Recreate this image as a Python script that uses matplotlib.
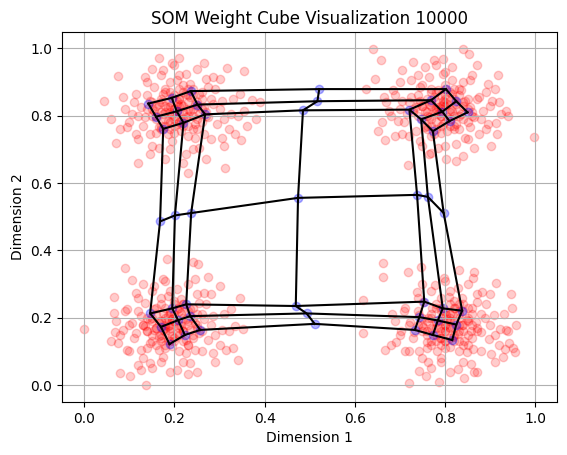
import numpy as np
import matplotlib
matplotlib.use("Agg")
import matplotlib.pyplot as plt

# input data, four clusters (x, y)
cluster_tl = [
    (0.20, 0.82), (0.22, 0.83), (0.18, 0.81), (0.24, 0.80), (0.21, 0.85), (0.19, 0.78), (0.23, 0.86), (0.17, 0.84),
    (0.25, 0.83), (0.20, 0.79), (0.22, 0.77), (0.16, 0.80), (0.26, 0.78), (0.18, 0.87), (0.24, 0.88), (0.21, 0.81),
    (0.19, 0.83), (0.23, 0.82), (0.15, 0.82), (0.27, 0.81), (0.20, 0.75), (0.22, 0.89), (0.17, 0.77), (0.25, 0.76),
    (0.28, 0.85), (0.14, 0.86), (0.19, 0.90), (0.23, 0.74), (0.26, 0.87), (0.16, 0.75),
    (0.12, 0.80), (0.11, 0.84), (0.13, 0.77), (0.30, 0.82), (0.31, 0.79), (0.29, 0.88), (0.27, 0.91), (0.21, 0.92),
    (0.17, 0.92), (0.14, 0.90), (0.10, 0.78), (0.12, 0.73), (0.15, 0.71), (0.19, 0.70), (0.24, 0.70), (0.28, 0.73),
    (0.32, 0.76), (0.33, 0.85), (0.30, 0.91), (0.25, 0.94), (0.20, 0.95), (0.15, 0.94), (0.09, 0.82), (0.08, 0.76),
    (0.27, 0.67), (0.22, 0.66), (0.18, 0.67), (0.34, 0.80), (0.36, 0.77), (0.31, 0.71),
    (0.044, 0.843), (0.074, 0.918), (0.070, 0.719), (0.354, 0.932), (0.372, 0.848), (0.313, 0.645), (0.210, 0.972),
    (0.166, 0.972), (0.347, 0.729), (0.317, 0.943), (0.06, 0.79), (0.38, 0.79), (0.23, 0.63), (0.12, 0.66), (0.39, 0.84),
    (0.205, 0.815), (0.215, 0.835), (0.195, 0.805), (0.235, 0.815), (0.185, 0.825), (0.225, 0.795), (0.205, 0.845),
    (0.245, 0.835), (0.175, 0.805), (0.215, 0.785), (0.195, 0.855), (0.235, 0.855), (0.165, 0.835), (0.255, 0.805),
    (0.185, 0.785), (0.225, 0.865), (0.205, 0.775), (0.265, 0.825), (0.155, 0.815), (0.245, 0.775), (0.175, 0.865),
    (0.215, 0.755), (0.275, 0.795), (0.145, 0.845), (0.235, 0.895), (0.185, 0.745), (0.255, 0.865), (0.165, 0.765),
    (0.285, 0.835), (0.135, 0.795), (0.205, 0.905), (0.245, 0.735), (0.155, 0.885), (0.295, 0.775), (0.125, 0.825),
    (0.275, 0.885), (0.195, 0.725), (0.225, 0.925), (0.145, 0.745), (0.305, 0.845), (0.115, 0.865), (0.265, 0.745),
    (0.175, 0.935), (0.325, 0.805), (0.105, 0.805), (0.255, 0.705), (0.165, 0.705), (0.285, 0.915), (0.135, 0.915),
    (0.345, 0.865), (0.095, 0.765), (0.305, 0.735), (0.225, 0.685), (0.195, 0.955), (0.335, 0.745), (0.115, 0.745),
    (0.265, 0.955), (0.085, 0.855), (0.355, 0.815), (0.145, 0.685),
    (0.200, 0.820), (0.210, 0.830), (0.190, 0.810), (0.220, 0.810), (0.180, 0.830), (0.230, 0.840), (0.200, 0.800),
    (0.210, 0.850), (0.190, 0.840), (0.220, 0.790), (0.170, 0.810), (0.240, 0.820), (0.200, 0.860), (0.180, 0.790),
    (0.230, 0.800), (0.160, 0.830), (0.250, 0.840), (0.210, 0.780), (0.190, 0.870), (0.240, 0.860), (0.170, 0.850),
    (0.220, 0.870), (0.180, 0.770), (0.250, 0.790), (0.160, 0.790), (0.200, 0.770), (0.230, 0.770), (0.150, 0.840),
    (0.260, 0.820), (0.210, 0.880), (0.170, 0.760), (0.240, 0.760), (0.190, 0.760), (0.150, 0.800), (0.260, 0.850),
    (0.180, 0.880), (0.230, 0.880), (0.270, 0.800), (0.140, 0.820), (0.205, 0.835),
]
cluster_tr = [
    (0.79, 0.83), (0.81, 0.82), (0.77, 0.84), (0.83, 0.80), (0.80, 0.86), (0.76, 0.80), (0.82, 0.85), (0.78, 0.78),
    (0.84, 0.83), (0.79, 0.80), (0.75, 0.83), (0.81, 0.77), (0.86, 0.81), (0.77, 0.87), (0.83, 0.88), (0.80, 0.84),
    (0.74, 0.86), (0.78, 0.82), (0.85, 0.78), (0.82, 0.76), (0.76, 0.77), (0.80, 0.89), (0.73, 0.81), (0.87, 0.85),
    (0.79, 0.75), (0.72, 0.84), (0.84, 0.90), (0.75, 0.89), (0.88, 0.79), (0.77, 0.74),
    (0.70, 0.82), (0.69, 0.86), (0.71, 0.78), (0.90, 0.83), (0.89, 0.87), (0.86, 0.92), (0.80, 0.93), (0.74, 0.92),
    (0.70, 0.90), (0.68, 0.80), (0.72, 0.74), (0.75, 0.71), (0.80, 0.71), (0.85, 0.73), (0.89, 0.76), (0.92, 0.84),
    (0.67, 0.84), (0.66, 0.78), (0.78, 0.95), (0.73, 0.96), (0.91, 0.88), (0.84, 0.68), (0.77, 0.69), (0.69, 0.74),
    (0.87, 0.95), (0.94, 0.80),
    (0.640, 0.999), (0.659, 0.965), (0.839, 0.997), (0.854, 0.982), (0.917, 0.920), (0.935, 0.815), (0.998, 0.737),
    (0.644, 0.908), (0.625, 0.878), (0.651, 0.754), (0.666, 0.729), (0.718, 0.655), (0.802, 0.670), (0.825, 0.665),
    (0.902, 0.709), (0.913, 0.779), (0.795, 0.967),
    (0.785, 0.825), (0.805, 0.835), (0.775, 0.815), (0.815, 0.815), (0.795, 0.845), (0.765, 0.835), (0.825, 0.835),
    (0.785, 0.805), (0.805, 0.795), (0.755, 0.815), (0.835, 0.805), (0.775, 0.855), (0.815, 0.865), (0.745, 0.845),
    (0.845, 0.845), (0.795, 0.775), (0.765, 0.795), (0.825, 0.775), (0.785, 0.875), (0.735, 0.825), (0.855, 0.825),
    (0.755, 0.765), (0.835, 0.875), (0.805, 0.755), (0.725, 0.855), (0.865, 0.795), (0.775, 0.745), (0.745, 0.885),
    (0.855, 0.765), (0.815, 0.905), (0.715, 0.805), (0.875, 0.855), (0.795, 0.925), (0.735, 0.755), (0.885, 0.815),
    (0.765, 0.915), (0.845, 0.735), (0.705, 0.845), (0.825, 0.715), (0.725, 0.905), (0.895, 0.775), (0.855, 0.905),
    (0.695, 0.785), (0.785, 0.705), (0.905, 0.845), (0.755, 0.945), (0.745, 0.725), (0.875, 0.745), (0.685, 0.875),
    (0.815, 0.945), (0.705, 0.745), (0.925, 0.805), (0.865, 0.705), (0.675, 0.815), (0.775, 0.965), (0.895, 0.895),
    (0.765, 0.685), (0.665, 0.855), (0.915, 0.745), (0.705, 0.935),
    (0.790, 0.820), (0.800, 0.830), (0.780, 0.810), (0.810, 0.810), (0.770, 0.830), (0.820, 0.840), (0.790, 0.800),
    (0.800, 0.850), (0.780, 0.840), (0.810, 0.790), (0.760, 0.810), (0.830, 0.820), (0.790, 0.860), (0.770, 0.790),
    (0.820, 0.800), (0.750, 0.830), (0.840, 0.840), (0.800, 0.780), (0.780, 0.870), (0.830, 0.860), (0.760, 0.850),
    (0.810, 0.870), (0.770, 0.770), (0.840, 0.790), (0.750, 0.790), (0.790, 0.770), (0.820, 0.770), (0.740, 0.840),
    (0.850, 0.820), (0.800, 0.880), (0.760, 0.760), (0.830, 0.760), (0.780, 0.760), (0.740, 0.800), (0.850, 0.850),
    (0.770, 0.880), (0.820, 0.880), (0.860, 0.800), (0.730, 0.820), (0.795, 0.835),
]
cluster_bl = [
    (0.18, 0.18), (0.20, 0.19), (0.16, 0.17), (0.22, 0.16), (0.19, 0.21), (0.17, 0.14), (0.21, 0.22), (0.15, 0.20),
    (0.23, 0.19), (0.18, 0.16), (0.20, 0.13), (0.14, 0.16), (0.24, 0.14), (0.16, 0.23), (0.22, 0.24), (0.19, 0.17),
    (0.17, 0.19), (0.21, 0.18), (0.13, 0.18), (0.25, 0.17), (0.18, 0.11), (0.20, 0.25), (0.15, 0.13), (0.23, 0.12),
    (0.26, 0.21), (0.12, 0.22), (0.17, 0.26), (0.21, 0.10), (0.24, 0.23), (0.14, 0.11),
    (0.10, 0.18), (0.09, 0.22), (0.11, 0.14), (0.28, 0.18), (0.29, 0.15), (0.27, 0.24), (0.25, 0.27), (0.19, 0.28),
    (0.15, 0.28), (0.12, 0.26), (0.08, 0.15), (0.10, 0.10), (0.13, 0.08), (0.17, 0.07), (0.22, 0.07), (0.26, 0.10),
    (0.30, 0.12), (0.31, 0.21), (0.28, 0.27), (0.23, 0.30), (0.18, 0.31), (0.13, 0.30), (0.07, 0.19), (0.06, 0.13),
    (0.25, 0.04), (0.19, 0.04), (0.15, 0.05), (0.32, 0.16), (0.33, 0.11), (0.29, 0.07),
    (0.000, 0.167), (0.137, 0.000), (0.080, 0.035), (0.102, 0.028), (0.091, 0.347), (0.105, 0.312), (0.183, 0.375),
    (0.242, 0.367), (0.253, 0.359), (0.301, 0.293), (0.345, 0.260), (0.352, 0.167), (0.341, 0.074), (0.231, 0.032),
    (0.065, 0.263), (0.069, 0.159), (0.120, 0.060), (0.275, 0.322),
    (0.185, 0.175), (0.195, 0.195), (0.175, 0.165), (0.215, 0.175), (0.165, 0.185), (0.205, 0.155), (0.185, 0.205),
    (0.225, 0.195), (0.155, 0.165), (0.195, 0.145), (0.175, 0.215), (0.215, 0.215), (0.145, 0.195), (0.235, 0.165),
    (0.165, 0.145), (0.205, 0.225), (0.185, 0.135), (0.245, 0.185), (0.135, 0.175), (0.225, 0.135), (0.155, 0.225),
    (0.195, 0.115), (0.255, 0.155), (0.125, 0.205), (0.215, 0.255), (0.165, 0.105), (0.235, 0.225), (0.145, 0.125),
    (0.265, 0.195), (0.115, 0.155), (0.185, 0.265), (0.225, 0.095), (0.135, 0.245), (0.275, 0.135), (0.105, 0.185),
    (0.255, 0.245), (0.175, 0.085), (0.205, 0.285), (0.125, 0.105), (0.285, 0.205), (0.095, 0.225), (0.245, 0.105),
    (0.155, 0.295), (0.305, 0.165), (0.085, 0.165), (0.235, 0.065), (0.145, 0.065), (0.265, 0.275), (0.115, 0.275),
    (0.325, 0.225), (0.075, 0.125), (0.285, 0.095), (0.205, 0.045), (0.175, 0.315), (0.315, 0.105), (0.095, 0.105),
    (0.245, 0.315), (0.065, 0.215), (0.335, 0.175), (0.125, 0.045),
    (0.190, 0.180), (0.200, 0.190), (0.180, 0.170), (0.210, 0.170), (0.170, 0.190), (0.220, 0.200), (0.190, 0.160),
    (0.200, 0.210), (0.180, 0.200), (0.210, 0.150), (0.160, 0.170), (0.230, 0.180), (0.190, 0.220), (0.170, 0.150),
    (0.220, 0.160), (0.150, 0.190), (0.240, 0.200), (0.200, 0.140), (0.180, 0.230), (0.230, 0.220), (0.160, 0.210),
    (0.210, 0.230), (0.170, 0.130), (0.240, 0.150), (0.150, 0.150), (0.190, 0.130), (0.220, 0.130), (0.140, 0.200),
    (0.250, 0.180), (0.200, 0.240), (0.160, 0.120), (0.230, 0.120), (0.180, 0.120), (0.140, 0.160), (0.250, 0.210),
    (0.170, 0.240), (0.220, 0.240), (0.260, 0.160), (0.130, 0.180), (0.195, 0.195),
]
cluster_br = [
    (0.80, 0.18), (0.82, 0.19), (0.78, 0.17), (0.84, 0.16), (0.81, 0.21), (0.79, 0.14), (0.83, 0.22), (0.77, 0.20),
    (0.85, 0.19), (0.80, 0.16), (0.82, 0.13), (0.76, 0.16), (0.86, 0.14), (0.78, 0.23), (0.84, 0.24), (0.81, 0.17),
    (0.79, 0.19), (0.83, 0.18), (0.75, 0.18), (0.87, 0.17), (0.80, 0.11), (0.82, 0.25), (0.77, 0.13), (0.85, 0.12),
    (0.88, 0.21), (0.74, 0.22), (0.79, 0.26), (0.83, 0.10), (0.86, 0.23), (0.76, 0.11),
    (0.72, 0.18), (0.71, 0.22), (0.73, 0.14), (0.90, 0.18), (0.91, 0.15), (0.89, 0.24), (0.87, 0.27), (0.81, 0.28),
    (0.77, 0.28), (0.74, 0.26), (0.70, 0.15), (0.72, 0.10), (0.75, 0.08), (0.79, 0.07), (0.84, 0.07), (0.88, 0.10),
    (0.92, 0.12), (0.93, 0.21), (0.90, 0.27), (0.85, 0.30), (0.80, 0.31), (0.75, 0.30), (0.69, 0.19), (0.68, 0.12),
    (0.87, 0.04), (0.81, 0.04), (0.77, 0.05), (0.94, 0.16), (0.95, 0.11), (0.91, 0.07),
    (0.662, 0.362), (0.662, 0.322), (0.618, 0.253), (0.619, 0.154), (0.666, 0.104), (0.720, 0.007), (0.758, 0.028),
    (0.786, 0.010), (0.843, 0.020), (0.865, 0.040), (0.928, 0.084), (0.956, 0.099), (0.946, 0.270), (0.913, 0.303),
    (0.865, 0.335), (0.832, 0.342), (0.747, 0.352), (0.718, 0.337), (0.942, 0.124), (0.935, 0.164),
    (0.808, 0.172), (0.812, 0.198), (0.792, 0.161), (0.838, 0.178), (0.781, 0.188), (0.828, 0.151), (0.803, 0.209),
    (0.849, 0.192), (0.772, 0.168), (0.818, 0.142), (0.791, 0.219), (0.832, 0.211), (0.762, 0.198), (0.858, 0.162),
    (0.788, 0.141), (0.822, 0.228), (0.801, 0.131), (0.868, 0.188), (0.751, 0.172), (0.842, 0.131), (0.772, 0.229),
    (0.811, 0.112), (0.879, 0.158), (0.742, 0.208), (0.838, 0.258), (0.782, 0.102), (0.851, 0.228), (0.761, 0.128),
    (0.888, 0.198), (0.731, 0.158), (0.808, 0.262), (0.848, 0.098), (0.752, 0.248), (0.898, 0.138), (0.722, 0.188),
    (0.872, 0.248), (0.792, 0.082), (0.828, 0.288), (0.742, 0.102), (0.908, 0.208), (0.712, 0.228), (0.862, 0.108),
    (0.778, 0.298), (0.922, 0.168), (0.702, 0.162), (0.858, 0.062), (0.762, 0.068), (0.882, 0.278), (0.738, 0.278),
    (0.948, 0.228), (0.692, 0.128), (0.902, 0.092), (0.828, 0.048), (0.798, 0.318), (0.932, 0.108), (0.712, 0.102),
    (0.862, 0.318), (0.682, 0.212), (0.958, 0.178), (0.742, 0.042),
    (0.800, 0.180), (0.810, 0.190), (0.790, 0.170), (0.820, 0.170), (0.780, 0.190), (0.830, 0.200), (0.800, 0.160),
    (0.810, 0.210), (0.790, 0.200), (0.820, 0.150), (0.770, 0.170), (0.840, 0.180), (0.800, 0.220), (0.780, 0.150),
    (0.830, 0.160), (0.760, 0.190), (0.850, 0.200), (0.810, 0.140), (0.790, 0.230), (0.840, 0.220), (0.770, 0.210),
    (0.820, 0.230), (0.780, 0.130), (0.850, 0.150), (0.760, 0.150), (0.800, 0.130), (0.830, 0.130), (0.750, 0.200),
    (0.860, 0.180), (0.810, 0.240), (0.770, 0.120), (0.840, 0.120), (0.790, 0.120), (0.750, 0.160), (0.860, 0.210),
    (0.780, 0.240), (0.830, 0.240), (0.870, 0.160), (0.740, 0.180), (0.805, 0.195),
]

# SOM weights, 7x7 grid (rows top to bottom, cols left to right)
weights_x = [
    [0.142, 0.194, 0.236, 0.521, 0.802, 0.825, 0.850],
    [0.159, 0.205, 0.251, 0.517, 0.769, 0.794, 0.810],
    [0.175, 0.220, 0.268, 0.485, 0.721, 0.747, 0.773],
    [0.168, 0.201, 0.237, 0.474, 0.738, 0.762, 0.797],
    [0.146, 0.195, 0.226, 0.469, 0.754, 0.795, 0.838],
    [0.170, 0.208, 0.235, 0.493, 0.743, 0.784, 0.825],
    [0.189, 0.223, 0.257, 0.511, 0.733, 0.773, 0.816],
]
weights_y = [
    [0.836, 0.853, 0.873, 0.879, 0.879, 0.843, 0.810],
    [0.797, 0.813, 0.833, 0.843, 0.846, 0.812, 0.784],
    [0.761, 0.779, 0.804, 0.816, 0.818, 0.789, 0.754],
    [0.486, 0.504, 0.511, 0.556, 0.565, 0.559, 0.511],
    [0.213, 0.228, 0.240, 0.235, 0.248, 0.228, 0.221],
    [0.173, 0.193, 0.205, 0.213, 0.202, 0.192, 0.180],
    [0.122, 0.149, 0.164, 0.182, 0.164, 0.149, 0.134],
]

data = np.array(cluster_tl + cluster_tr + cluster_bl + cluster_br)
wx = np.array(weights_x)
wy = np.array(weights_y)

fig = plt.figure(figsize=(5.67, 4.55), dpi=100)
ax = fig.add_axes([0.109, 0.1165, 0.873, 0.8135])

ax.scatter(data[:, 0], data[:, 1], c='red', alpha=0.2)
ax.scatter(wx.ravel(), wy.ravel(), c='blue', alpha=0.3)

# grid connections
for i in range(wx.shape[0]):
    ax.plot(wx[i, :], wy[i, :], 'k-')
for j in range(wx.shape[1]):
    ax.plot(wx[:, j], wy[:, j], 'k-')

ax.set_title('SOM Weight Cube Visualization 10000')
ax.set_xlabel('Dimension 1')
ax.set_ylabel('Dimension 2')
ax.grid(True)

fig.savefig('out.png', dpi=100)
